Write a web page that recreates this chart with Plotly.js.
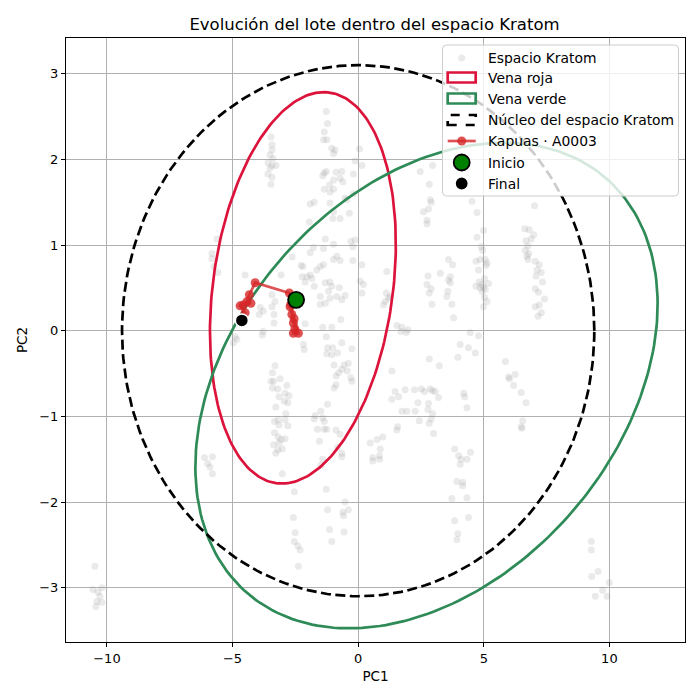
<!DOCTYPE html>
<html>
<head>
<meta charset="utf-8">
<script src="https://cdn.plot.ly/plotly-3.0.1.min.js"></script>
<style>
  html, body { margin: 0; padding: 0; background: #ffffff; }
  #chart { width: 700px; height: 700px; }
</style>
</head>
<body>
<div id="chart"></div>
<script>
// Kratom reference space: PCA scores of the reference lots, grouped by region [PC1, PC2]
const westPoints = [
  [-10.48,-2.75],[-10.56,-3.02],[-10.36,-3.05],[-10.2,-3.0],[-10.28,-3.10],[-10.4,-3.16],[-10.2,-3.17],[-10.44,-3.22],
  [-5.62,1.07],[-5.82,0.90],[-5.82,0.84],[-5.74,0.75],[-5.58,0.68],
  [-6.12,-1.48],[-5.80,-1.47],[-5.99,-1.55],[-5.90,-1.59],[-5.80,-1.67],
  [-4.50,0.65],[-4.90,-0.07],[-4.97,-0.14],[-4.83,-0.10]
];
const redVeinPoints = [
  [-3.47,2.26],[-3.43,2.17],[-3.43,2.11],[-3.51,2.05],[-3.39,2.01],[-3.59,1.96],[-3.43,1.93],[-3.27,1.93],
  [-3.51,1.90],[-3.59,1.83],[-3.43,1.79],[-3.47,1.71],
  [-2.63,0.86],[-2.27,0.76],[-3.07,0.65],[-2.23,0.63],
  [-3.43,0.42],[-3.31,0.34],[-3.43,0.28],[-3.35,0.19],[-3.35,0.09],[-3.90,0.27],[-3.78,0.23],[-3.94,0.19],
  [-3.78,-0.01],[-3.82,-0.05],
  [-3.31,-0.41],[-3.41,-0.49],[-3.47,-0.59],[-3.37,-0.59],[-3.11,-0.56],[-2.84,-0.64],[-3.41,-0.67],[-3.20,-0.68],
  [-3.15,-0.77],[-2.91,-0.73],[-2.75,-0.76],[-2.94,-0.82],[-2.80,-0.84],[-3.28,-0.89],[-2.88,-0.97],[-2.91,-1.04],
  [-3.33,-1.06],[-3.18,-1.04],[-3.15,-1.10],[-2.80,-1.11],[-3.33,-1.19],[-3.18,-1.24],[-3.07,-1.27],[-2.91,-1.26],
  [-3.15,-1.31],[-3.37,-1.33],[-3.20,-1.39],[-3.02,-1.38],[-3.28,-1.43],[-3.02,-1.67],
  [-2.54,-1.88],[-2.58,-2.18],[-2.51,-2.36],[-2.54,-2.46],[-2.40,-2.51],[-2.31,-2.56],[-2.38,-2.75],
  [-2.18,-0.16],[-2.15,-0.22],[-2.11,0.08]
];
const centralPoints = [
  [-1.27,2.56],[-1.22,2.42],[-1.35,2.32],[-1.38,2.23],[-1.25,2.23],[-1.05,2.13],[-0.98,2.07],[-0.92,2.11],
  [0.05,2.12],[-0.12,1.98],[0.15,1.93],[-1.35,1.84],[-1.27,1.86],[-1.41,1.81],[-0.88,1.85],[-0.65,1.86],
  [-0.72,1.78],[-0.61,1.74],[-0.98,1.76],[-1.14,1.70],[-1.35,1.65],[-1.12,1.62],[-0.98,1.65],[-0.19,1.83],
  [-0.52,1.55],[-0.45,1.53],[-0.19,1.60],[-0.35,1.37],[-1.75,1.50],[-1.91,1.48],[-1.12,1.49],[-0.98,1.39],
  [-0.72,1.31],[-1.01,1.31],[-1.94,1.27],[-1.31,1.07],[-0.98,1.01],[-1.38,0.96],[-1.78,0.97],[-0.29,1.04],
  [-0.12,1.06],[-0.21,0.98],[-0.85,0.87],[-0.72,0.82],[-0.98,0.83],[-1.38,0.77],[-1.51,0.75],[-1.91,0.91],
  [-2.20,0.75],[-1.65,0.71],[-0.21,0.82],[0.15,0.77],[-1.91,0.65],[-2.04,0.63],[-2.11,0.57],[-1.84,0.61],
  [-1.75,0.52],[-1.31,0.56],[-1.12,0.57],[-1.05,0.52],[-1.18,0.46],[-0.75,0.50],[0.08,0.58],[0.21,0.54],
  [0.15,0.44],[-1.51,0.40],[-1.12,0.38],[-0.85,0.40],[-0.52,0.41],[-0.65,0.36],[-1.31,0.32],[-1.51,0.31],
  [-0.69,0.13],[-1.41,0.04],[-1.05,0.04],[-1.27,-0.07],[-0.65,-0.14],
  [-1.22,-0.20],[-1.01,-0.20],[-1.25,-0.27],[-1.05,-0.28],[-0.82,-0.26],[-0.25,-0.21],[-0.96,-0.40],[-0.56,-0.40],
  [-0.39,-0.38],[-0.65,-0.45],[-0.78,-0.49],[-0.88,-0.53],[-0.43,-0.47],[-0.29,-0.55],[-0.25,-0.59],[-0.88,-0.63],
  [-0.96,-0.67],[-1.22,-0.86],[-1.49,-0.94],[-1.71,-0.99],[-1.75,-1.03],[-1.41,-1.02],[-1.35,-1.06],[-1.62,-1.15],
  [-1.35,-1.15],[-1.25,-1.15],[-0.88,-1.16],[-0.72,-1.21],[-1.54,-1.29],[-0.82,-1.36],[-0.65,-1.43],[-0.65,-1.47],
  [-1.41,-1.50],[-1.49,-1.57],[-1.27,-1.85],[-0.52,-2.00],[-0.39,-2.09],[-0.61,-2.12],[-0.58,-2.16],[-1.22,-2.09],
  [-1.14,-2.32],[-0.56,-2.35],[-1.05,-2.46]
];
const greenVeinPoints = [
  [1.14,0.69],[1.12,0.44],[1.21,0.38],[1.08,0.34],[1.01,0.30],[1.27,0.40],[1.54,0.06],[1.74,0.04],[1.70,-0.01],[1.91,-0.02],
  [1.34,-0.47],[1.47,-0.71],[1.61,-0.77],[1.34,-0.80],[1.87,-0.69],[1.74,-0.94],[1.94,-0.94],[1.57,-1.12],[1.54,-1.16],
  [0.48,-1.31],[0.75,-1.27],[0.98,-1.24],[0.88,-1.38],[0.58,-1.48],[0.58,-1.52],[0.85,-1.46],[0.85,-1.50],
  [2.47,1.86],[2.96,1.93],[2.83,1.71],[2.87,1.53],[2.91,1.50],[2.80,1.42],[2.60,1.39],[2.74,1.29],[2.74,1.25],
  [3.60,0.83],[3.76,0.77],[3.27,0.67],[3.67,0.63],[3.60,0.59],[3.67,0.56],[2.78,0.64],[2.74,0.54],[2.91,0.49],
  [2.83,0.44],[3.57,0.46],[3.53,0.40],[3.73,0.31],[2.94,0.31],[3.80,0.15],[1.98,0.01],
  [2.83,-0.33],[3.23,-0.41],[2.24,-0.69],[2.51,-0.68],[2.64,-0.71],[2.87,-0.68],[2.96,-0.70],[3.07,-0.71],
  [3.20,-0.78],[2.38,-0.84],[2.80,-0.85],[2.78,-0.92],[2.96,-0.97],[2.27,-0.94],[2.43,-1.05],[2.91,-1.03],
  [2.83,-1.08],[3.00,-1.20]
];
const eastPoints = [
  [4.53,1.51],[4.73,1.38],[4.99,1.17],[4.73,1.09],[4.90,0.98],[4.95,0.94],[4.86,0.83],[4.69,0.81],[5.06,0.83],
  [5.13,0.79],[5.09,0.76],[4.79,0.71],[4.82,0.57],[4.69,0.52],[4.93,0.54],[4.86,0.50],[4.99,0.51],[5.19,0.55],
  [5.06,0.48],[4.93,0.46],[5.03,0.39],[5.13,0.34],[4.99,0.28],[5.03,0.61],
  [4.46,-0.02],[4.79,-0.06],[4.06,-0.16],[4.39,-0.20],[4.66,-0.26],[3.97,-0.31],
  [4.20,-0.73],[4.24,-0.77],[4.33,-0.90],[3.84,-1.38],[4.00,-1.46],[4.10,-1.50],[4.33,-1.50],[4.47,-1.42],
  [4.06,-1.56],[3.93,-1.76],[4.16,-1.77],[4.16,-1.81],[4.33,-1.95],[3.73,-1.96],[3.84,-2.22],[4.39,-2.18],
  [3.97,-2.37],[3.93,-2.44],
  [5.86,-0.36],[5.99,-0.54],[6.02,-0.56],[6.25,-0.51],[6.19,-0.64],[6.49,-0.72],[6.68,-0.84],
  [6.55,-1.05],[6.49,-1.12],[6.52,-1.14],
  [6.63,1.19],[6.81,1.18],[6.99,1.12],[6.68,1.05],[6.89,1.07],[6.76,0.99],[6.65,0.94],[6.79,0.90],[6.72,0.87],
  [6.76,0.83],[7.05,0.81],[7.21,0.77],[7.12,0.71],[7.29,0.68],[7.08,0.64],[7.34,0.57],[7.05,0.49],[7.18,0.45],
  [7.42,0.37],[7.21,0.30],[7.05,0.28],[7.29,0.21],[7.16,0.17],[7.02,1.46],
  [9.28,-2.46],[9.28,-2.56],[9.55,-2.81],[9.30,-2.87],[10.0,-2.94],[9.73,-3.03],[9.44,-3.10],[9.91,-3.10]
];

// Batch trajectory (Kapuas · A0003), in sampling order
const trajPC1 = [-2.47, -2.71, -2.64, -2.58, -2.52, -2.58, -2.38, -2.55, -2.68, -2.74, -4.10, -4.33, -4.43, -4.57, -4.27, -4.70, -4.50, -4.63];
const trajPC2 = [0.36, 0.28, 0.19, 0.09, 0.02, -0.03, -0.03, 0.14, 0.31, 0.44, 0.56, 0.42, 0.34, 0.30, 0.32, 0.29, 0.21, 0.12];

// Confidence ellipses: centre, semi-axes and rotation (degrees) in PC units
const ellipseNames = ['Vena roja', 'Vena verde', 'Núcleo del espacio Kratom'];
const ellipseCenterX = [-2.2, 2.72, 0];
const ellipseCenterY = [0.5, -0.64, 0];
const ellipseSemiMajor = [3.755, 9.254, 9.4];
const ellipseSemiMinor = [2.194, 2.655, 3.1];
const ellipseAngleDeg = [12.07, 6.43, 0];

const legendLabels = ['Espacio Kratom', 'Vena roja', 'Vena verde', 'Núcleo del espacio Kratom', 'Kapuas · A0003', 'Inicio', 'Final'];

// Styling
const COLORS = {
  cloud: 'rgba(150,150,150,0.2)',
  red: '#dc143c',
  green: '#2e8b57',
  core: '#000000',
  traj: 'rgba(214,39,40,0.8)',
  start: '#008000',
  end: '#000000'
};
const ellipseColors = [COLORS.red, COLORS.green, COLORS.core];
const ellipseDash = ['solid', 'solid', '10px,4.5px'];
const LW = 2.7;

function ellipseOutline(cx, cy, a, b, angleDeg) {
  const th = angleDeg * Math.PI / 180;
  const xs = [], ys = [];
  const n = 240;
  for (let i = 0; i <= n; i++) {
    const t = 2 * Math.PI * i / n;
    xs.push(cx + a * Math.cos(th) * Math.cos(t) - b * Math.sin(th) * Math.sin(t));
    ys.push(cy + a * Math.sin(th) * Math.cos(t) + b * Math.cos(th) * Math.sin(t));
  }
  return { x: xs, y: ys };
}

const allPoints = [].concat(westPoints, redVeinPoints, centralPoints, greenVeinPoints, eastPoints);

const traces = [];
traces.push({
  type: 'scatter', mode: 'markers', name: legendLabels[0],
  x: allPoints.map(p => p[0]), y: allPoints.map(p => p[1]),
  marker: { size: 7, color: COLORS.cloud, line: { width: 0 } },
  hoverinfo: 'skip'
});
for (let i = 0; i < ellipseNames.length; i++) {
  const e = ellipseOutline(ellipseCenterX[i], ellipseCenterY[i], ellipseSemiMajor[i], ellipseSemiMinor[i], ellipseAngleDeg[i]);
  traces.push({
    type: 'scatter', mode: 'lines', name: ellipseNames[i],
    x: e.x, y: e.y,
    line: { color: ellipseColors[i], width: LW, dash: ellipseDash[i] },
    hoverinfo: 'skip'
  });
}
traces.push({
  type: 'scatter', mode: 'lines+markers', name: legendLabels[4],
  x: trajPC1, y: trajPC2,
  line: { color: COLORS.traj, width: LW },
  marker: { size: 9, color: COLORS.traj }
});
traces.push({
  type: 'scatter', mode: 'markers', name: legendLabels[5],
  x: [trajPC1[0]], y: [trajPC2[0]],
  marker: { size: 16, color: COLORS.start, line: { color: '#000000', width: 1.8 } }
});
traces.push({
  type: 'scatter', mode: 'markers', name: legendLabels[6],
  x: [trajPC1[trajPC1.length - 1]], y: [trajPC2[trajPC2.length - 1]],
  marker: { size: 13, color: COLORS.end, line: { color: '#ffffff', width: 1.5 } }
});

// Legend box drawn as paper-referenced shapes and annotations (patch-style symbols)
const M = { l: 66, r: 15, t: 38, b: 58 };
const W = 700, H = 700;
const PW = W - M.l - M.r, PH = H - M.t - M.b;
const fx = px => (px - M.l) / PW;
const fy = py => (H - M.b - py) / PH;

const LG = { left: 442.5, right: 678.5, top: 45, bottom: 196, symX: 461.7, symHalfW: 14, symHalfH: 5, textX: 486 };
const rowY = [58, 77.5, 98.5, 120, 141, 162.5, 183.5];

function roundedRectPath(x0, y0, x1, y1, r) {
  const X = fx, Y = fy;
  return 'M' + X(x0 + r) + ',' + Y(y0) +
    ' L' + X(x1 - r) + ',' + Y(y0) + ' Q' + X(x1) + ',' + Y(y0) + ' ' + X(x1) + ',' + Y(y0 + r) +
    ' L' + X(x1) + ',' + Y(y1 - r) + ' Q' + X(x1) + ',' + Y(y1) + ' ' + X(x1 - r) + ',' + Y(y1) +
    ' L' + X(x0 + r) + ',' + Y(y1) + ' Q' + X(x0) + ',' + Y(y1) + ' ' + X(x0) + ',' + Y(y1 - r) +
    ' L' + X(x0) + ',' + Y(y0 + r) + ' Q' + X(x0) + ',' + Y(y0) + ' ' + X(x0 + r) + ',' + Y(y0) + ' Z';
}
function dot(cx, cy, r, fill, lineColor, lineWidth) {
  return { type: 'circle', xref: 'paper', yref: 'paper', layer: 'above',
    x0: fx(cx - r), x1: fx(cx + r), y0: fy(cy + r), y1: fy(cy - r),
    fillcolor: fill, line: { color: lineColor || fill, width: lineWidth || 0 } };
}
function patch(cy, color, dash) {
  return { type: 'rect', xref: 'paper', yref: 'paper', layer: 'above',
    x0: fx(LG.symX - LG.symHalfW), x1: fx(LG.symX + LG.symHalfW), y0: fy(cy + LG.symHalfH), y1: fy(cy - LG.symHalfH),
    fillcolor: 'rgba(0,0,0,0)', line: { color: color, width: LW, dash: dash } };
}

const shapes = [
  { type: 'path', xref: 'paper', yref: 'paper', layer: 'above',
    path: roundedRectPath(LG.left, LG.top, LG.right, LG.bottom, 4),
    fillcolor: 'rgba(255,255,255,0.8)', line: { color: '#cccccc', width: 1 } },
  dot(LG.symX, rowY[0], 3.5, 'rgba(150,150,150,0.2)'),
  patch(rowY[1], COLORS.red, 'solid'),
  patch(rowY[2], COLORS.green, 'solid'),
  patch(rowY[3], COLORS.core, 'dash'),
  { type: 'line', xref: 'paper', yref: 'paper', layer: 'above',
    x0: fx(LG.symX - LG.symHalfW), x1: fx(LG.symX + LG.symHalfW), y0: fy(rowY[4]), y1: fy(rowY[4]),
    line: { color: COLORS.traj, width: LW } },
  dot(LG.symX, rowY[4], 4.5, COLORS.traj),
  dot(LG.symX, rowY[5], 8, COLORS.start, '#000000', 1.8),
  dot(LG.symX, rowY[6], 6.5, COLORS.end, '#ffffff', 1.2)
];
const annotations = legendLabels.map((t, i) => ({
  text: t, xref: 'paper', yref: 'paper', x: fx(LG.textX), y: fy(rowY[i]),
  xanchor: 'left', yanchor: 'middle', showarrow: false,
  font: { family: 'DejaVu Sans', size: 13.9, color: '#000000' }
}));

const axisCommon = {
  showgrid: true, gridcolor: '#b0b0b0', gridwidth: 1,
  zeroline: false, showline: true, mirror: true, linecolor: '#000000', linewidth: 1,
  ticks: 'outside', ticklen: 4, tickcolor: '#000000',
  tickfont: { family: 'DejaVu Sans', size: 13, color: '#000000' }
};

const layout = {
  width: W, height: H,
  paper_bgcolor: '#ffffff', plot_bgcolor: '#ffffff',
  margin: M,
  font: { family: 'DejaVu Sans', color: '#000000' },
  title: { text: 'Evolución del lote dentro del espacio Kratom', x: 0.535, xanchor: 'center', y: 0.966, yanchor: 'middle',
           font: { family: 'DejaVu Sans', size: 16.5, color: '#000000' } },
  xaxis: Object.assign({}, axisCommon, {
    range: [-11.63, 13.01], tickvals: [-10, -5, 0, 5, 10],
    title: { text: 'PC1', font: { family: 'DejaVu Sans', size: 13.5 }, standoff: 6 }
  }),
  yaxis: Object.assign({}, axisCommon, {
    range: [-3.634, 3.417], tickvals: [-3, -2, -1, 0, 1, 2, 3],
    title: { text: 'PC2', font: { family: 'DejaVu Sans', size: 13.5 }, standoff: 8 }
  }),
  showlegend: false,
  shapes: shapes,
  annotations: annotations
};

Plotly.newPlot('chart', traces, layout, { displayModeBar: false, staticPlot: true });
</script>
</body>
</html>
